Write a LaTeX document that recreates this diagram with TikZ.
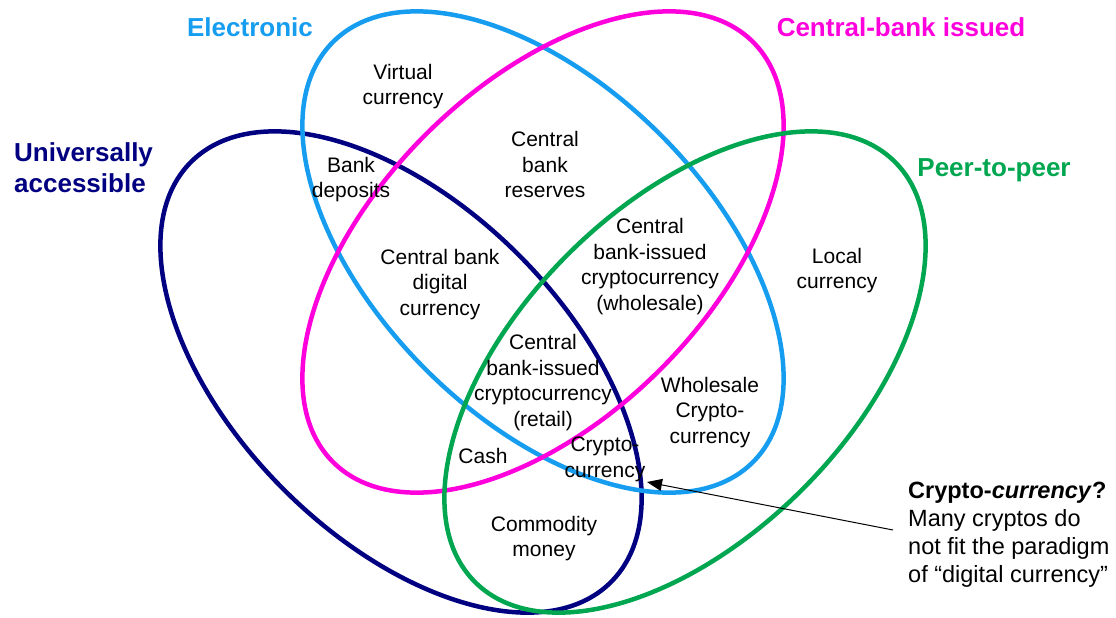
\documentclass[tikz,border=0pt]{standalone}
\usepackage{fontspec}
\setmainfont{Liberation Sans}
\usetikzlibrary{arrows.meta}
\definecolor{navyc}{RGB}{0,0,128}
\definecolor{lbluec}{RGB}{22,157,240}
\definecolor{magc}{RGB}{255,0,221}
\definecolor{greenc}{RGB}{0,166,80}
\tikzset{
  venn/.style={line width=4.5pt},
  lab/.style={inner sep=0pt, align=center, font=\fontsize{21}{25.5}\selectfont, yshift=-2.5pt},
  ttl/.style={inner sep=0pt, font=\fontsize{26}{31}\selectfont\bfseries},
  note/.style={inner sep=0pt, align=left, font=\fontsize{23.5}{28}\selectfont},
}
\begin{document}
\begin{tikzpicture}[x=1pt,y=-1pt]
\useasboundingbox (0,0) rectangle (1116,618);
% ellipses
\draw[venn, navyc, rotate around={-45:(401,372)}] (401,372) ellipse [x radius=297, y radius=166];
\draw[venn, lbluec, rotate around={-45:(543,252)}] (543,252) ellipse [x radius=297, y radius=166];
\draw[venn, magc, rotate around={45:(543,252)}] (543,252) ellipse [x radius=297, y radius=166];
\draw[venn, greenc, rotate around={45:(685,372)}] (685,372) ellipse [x radius=297, y radius=166];
% titles
\node[ttl, text=lbluec] (tel) at (250,27) {Electronic};
\node[ttl, text=magc] (tcb) at (901,27) {Central-bank issued};
\node[ttl, text=navyc, align=left, anchor=west] (tua) at (14,168) {Universally\\accessible};
\node[ttl, text=greenc] (tpp) at (994,170) {Peer-to-peer};
% region labels
\node[lab] (vc) at (403,84) {Virtual\\currency};
\node[lab] (bd) at (351,177) {Bank\\deposits};
\node[lab] (cbr) at (545,162) {Central\\bank\\reserves};
\node[lab] (cbdc) at (440,282) {Central bank\\digital\\currency};
\node[lab] (cbw) at (650,264) {Central\\bank-issued\\cryptocurrency\\(wholesale)};
\node[lab] (lc) at (837,268) {Local\\currency};
\node[lab] (cbret) at (543,380) {Central\\bank-issued\\cryptocurrency\\(retail)};
\node[lab] (wcc) at (710,410) {Wholesale\\Crypto-\\currency};
\node[lab] (cash) at (483,453) {Cash};
\node[lab] (cc) at (605,457) {Crypto-\\currency};
\node[lab] (cm) at (544,536) {Commodity\\money};
% callout
\node[note, anchor=west] (callout) at (908,535) {\textbf{Crypto-\textit{currency}?}\\Many cryptos do\\not fit the paradigm\\of “digital currency”};
\coordinate (arrstart) at (893,530);
\coordinate (arrtip) at (647,482);
\draw[line width=1pt, -{Triangle[length=15pt,width=12pt]}] (arrstart) -- (arrtip);
\end{tikzpicture}
\end{document}
